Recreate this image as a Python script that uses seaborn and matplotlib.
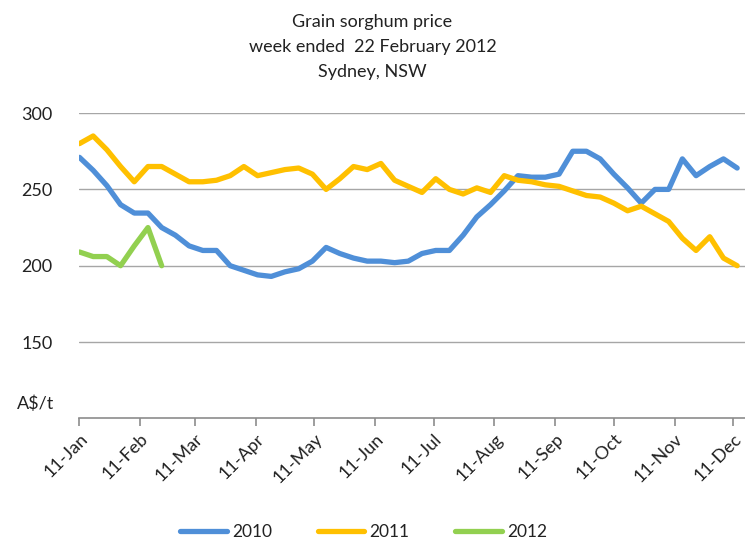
import pandas as pd
import matplotlib.pyplot as plt
import matplotlib.dates as mdates
import seaborn as sns

# weekly Sydney grain sorghum price (A$/t), plotted on a common Jan-Dec axis
weeks = pd.date_range("2011-01-11", periods=49, freq="7D")

price_2010 = [271, 262.5, 252.5, 240, 234.5, 234.5, 225, 220, 213, 210,
              210, 200, 197, 194, 193, 196, 198, 203, 212, 208,
              205, 203, 203, 202, 203, 208, 210, 210, 220, 232,
              240, 249, 259, 258, 258, 260, 275, 275, 270, 260,
              251, 241, 250, 250, 270, 259, 265, 270, 264]
price_2011 = [280, 285, 276, 265, 255, 265, 265, 260, 255, 255,
              256, 259, 265, 259, 261, 263, 264, 260, 250, 257,
              265, 263, 267, 256, 252, 248, 257, 250, 247, 251,
              248, 259, 256, 255, 253, 252, 249, 246, 245, 241,
              236, 239, 234, 229, 218, 210, 219, 205, 200]
price_2012 = [209, 206, 206, 200, 213, 225, 200]

years = ["2010", "2011", "2012"]
colours = ["#4f8fd8", "#ffc000", "#92d050"]
month_ticks = pd.date_range("2011-01-11", periods=12, freq=pd.DateOffset(months=1))
y_ticks = [150, 200, 250, 300]

df = pd.concat([
    pd.DataFrame({"week": weeks[:len(p)], "price": p, "year": y})
    for p, y in zip([price_2010, price_2011, price_2012], years)
])

sns.set_style("white")
plt.rcParams["font.family"] = ["Lato", "DejaVu Sans"]
txt = "#222222"

fig = plt.figure(figsize=(7.45, 5.49), dpi=100)
ax = fig.add_axes([0.106, 0.238, 0.894, 0.556])

sns.lineplot(data=df, x="week", y="price", hue="year", hue_order=years,
             palette=colours, linewidth=3.8, estimator=None, legend=False,
             solid_joinstyle="round", solid_capstyle="round", ax=ax)

ax.set_ylim(100, 300)
ax.set_xlim(pd.Timestamp("2011-01-10 18:00"), pd.Timestamp("2011-01-11") + pd.Timedelta(days=340))
ax.set_yticks(y_ticks)
ax.set_xticks(month_ticks)
ax.xaxis.set_major_formatter(mdates.DateFormatter("%d-%b"))
ax.set_xlabel("")
ax.set_ylabel("")

ax.set_axisbelow(True)
ax.yaxis.grid(True, color="#a6a6a6", linewidth=1)
ax.xaxis.grid(False)
for s in ["top", "left", "right"]:
    ax.spines[s].set_visible(False)
ax.spines["bottom"].set_color("#8c8c8c")
ax.spines["bottom"].set_linewidth(1.2)

ax.tick_params(axis="y", length=0, pad=19, labelsize=13, labelcolor=txt)
ax.tick_params(axis="x", direction="out", length=6, width=1.2, color="#8c8c8c",
               bottom=True, pad=3, labelsize=13, labelcolor=txt)
for lab in ax.get_xticklabels():
    lab.set_rotation(45)
    lab.set_ha("right")
    lab.set_rotation_mode("anchor")

fig.text(17 / 745, 1 - 404 / 549, "A$/t", ha="left", va="center", fontsize=13, color=txt)
fig.text(0.5, 0.914, "Grain sorghum price\nweek ended  22 February 2012\nSydney, NSW",
         ha="center", va="center", fontsize=13, linespacing=1.7, color=txt)

fig.legend(ax.lines, years, loc="center", bbox_to_anchor=(0.488, 0.031), ncol=3,
           frameon=False, fontsize=12.5, handlelength=2.7, handletextpad=0.3,
           columnspacing=2.6, labelcolor=txt)

fig.savefig("out.png", dpi=100)
